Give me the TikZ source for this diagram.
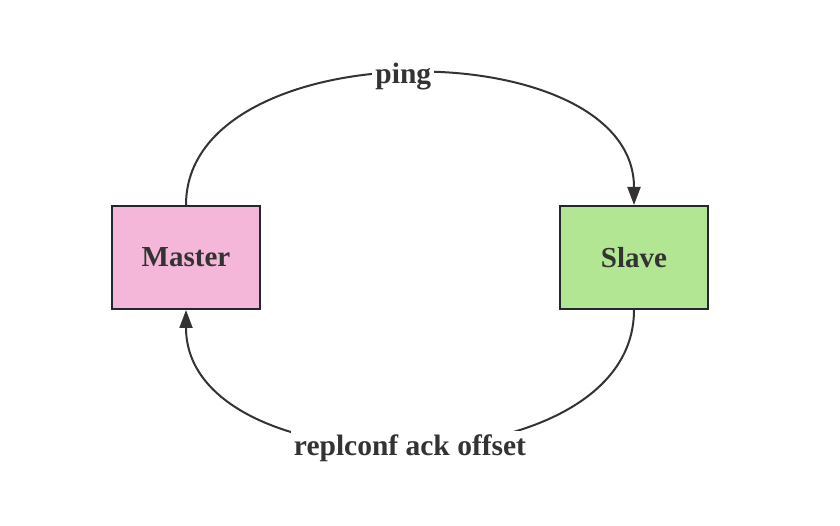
\documentclass[tikz,border=0pt]{standalone}
\usepackage{fontspec}
\setmainfont{Liberation Serif}
\usetikzlibrary{arrows.meta}
\definecolor{masterpink}{HTML}{F5B7D9}
\definecolor{slavegreen}{HTML}{B3E692}
\definecolor{boxedge}{HTML}{23282E}
\definecolor{linkgray}{HTML}{333333}
\tikzset{
  nodebox/.style={draw=boxedge, line width=2pt, minimum width=148pt, minimum height=103pt,
    inner sep=0pt, font=\fontsize{29}{35}\selectfont\bfseries, text=linkgray},
  link/.style={draw=linkgray, line width=2pt, -{Triangle[length=18pt,width=13pt]}},
  linklabel/.style={fill=white, inner sep=3pt, font=\fontsize{29.5}{35}\selectfont\bfseries, text=linkgray}
}
\begin{document}
\begin{tikzpicture}[x=1pt, y=-1pt]
    \useasboundingbox (0,0) rectangle (840,526);
    % the two servers
    \node[nodebox, fill=masterpink] (master) at (186,257.5) {Master};
    \node[nodebox, fill=slavegreen] (slave) at (634,257.5) {Slave};
    % heartbeat from master
    \draw[link] (master.north) .. controls (186,30) and (634,30) .. (slave.north)
        node[linklabel, pos=0.49, yshift=-3pt] (ping) {ping};
    % ack from slave
    \draw[link] (slave.south) .. controls (634,490) and (186,490) .. (master.south)
        node[linklabel, pos=0.5, yshift=-3pt] (ack) {replconf ack offset};
\end{tikzpicture}
\end{document}
